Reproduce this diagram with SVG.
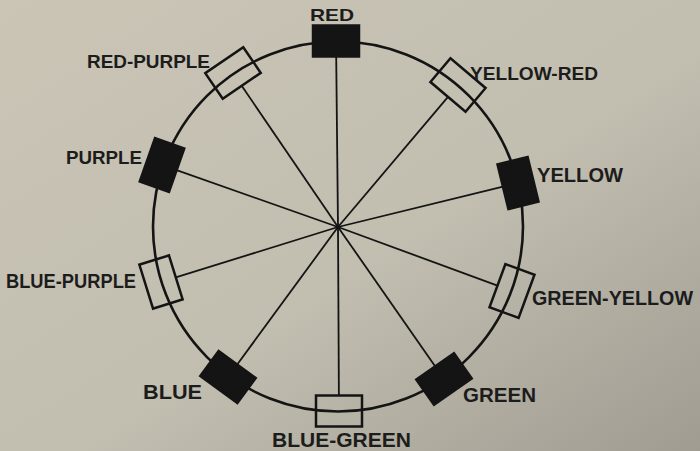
<svg xmlns="http://www.w3.org/2000/svg" width="700" height="451" viewBox="0 0 700 451">
<defs>
<linearGradient id="bg" x1="0" y1="0" x2="1" y2="1">
<stop offset="0" stop-color="#cac5b5"/>
<stop offset="0.55" stop-color="#c2beb0"/>
<stop offset="1" stop-color="#a09c92"/>
</linearGradient>
<style>
.lbl{font-family:"Liberation Sans",Arial,sans-serif;font-weight:bold;fill:#1c1c1c;font-size:20px}
.filled{fill:#141414;stroke:#141414;stroke-width:2.5}
.hollow{fill:none;stroke:#141414;stroke-width:2.5}
.spoke{stroke:#141414;stroke-width:1.8;fill:none}
.wheel{stroke:#141414;stroke-width:2.6;fill:none}
</style>
</defs>
<rect width="700" height="451" fill="url(#bg)"/>
<g id="wheel"><circle class="wheel" cx="338" cy="226.5" r="185"/></g>
<g id="connectors">
<line class="spoke" x1="338" y1="227" x2="336.2" y2="56.5"/>
<line class="spoke" x1="338" y1="227" x2="448" y2="96.8"/>
<line class="spoke" x1="338" y1="227" x2="503" y2="186.7"/>
<line class="spoke" x1="338" y1="227" x2="497.5" y2="285.6"/>
<line class="spoke" x1="338" y1="227" x2="435.1" y2="366.3"/>
<line class="spoke" x1="338" y1="227" x2="338.9" y2="395.5"/>
<line class="spoke" x1="338" y1="227" x2="237.2" y2="364.5"/>
<line class="spoke" x1="338" y1="227" x2="175.8" y2="277.4"/>
<line class="spoke" x1="338" y1="227" x2="176.6" y2="170.1"/>
<line class="spoke" x1="338" y1="227" x2="241.7" y2="85.8"/>
</g>
<g id="red"><rect class="filled" x="-23" y="-15.5" width="46" height="31" transform="translate(336,41)"/>
<text class="lbl" x="310" y="21" font-size="17" textLength="44" lengthAdjust="spacingAndGlyphs" style="font-size:17px">RED</text></g>
<g id="yellow-red"><rect class="hollow" x="-23" y="-15.5" width="46" height="31" transform="translate(458,85) rotate(40.2)"/>
<text class="lbl" x="470" y="80" textLength="128" lengthAdjust="spacingAndGlyphs" style="font-size:18px">YELLOW-RED</text></g>
<g id="yellow"><rect class="filled" x="-23" y="-15.5" width="46" height="31" transform="translate(518,183) rotate(76.3)"/>
<text class="lbl" x="537" y="182" textLength="86" lengthAdjust="spacingAndGlyphs">YELLOW</text></g>
<g id="green-yellow"><rect class="hollow" x="-23" y="-15.5" width="46" height="31" transform="translate(512,291) rotate(110.2)"/>
<text class="lbl" x="532" y="305" textLength="161" lengthAdjust="spacingAndGlyphs">GREEN-YELLOW</text></g>
<g id="green"><rect class="filled" x="-23" y="-15.5" width="46" height="31" transform="translate(444,379) rotate(145.1)"/>
<text class="lbl" x="463" y="402" textLength="73" lengthAdjust="spacingAndGlyphs">GREEN</text></g>
<g id="blue-green"><rect class="hollow" x="-23" y="-15.5" width="46" height="31" transform="translate(339,411) rotate(180)"/>
<text class="lbl" x="272" y="447" textLength="139" lengthAdjust="spacingAndGlyphs">BLUE-GREEN</text></g>
<g id="blue"><rect class="filled" x="-23" y="-15.5" width="46" height="31" transform="translate(228,377) rotate(216.3)"/>
<text class="lbl" x="143" y="399" textLength="59" lengthAdjust="spacingAndGlyphs">BLUE</text></g>
<g id="blue-purple"><rect class="hollow" x="-23" y="-15.5" width="46" height="31" transform="translate(161,282) rotate(252.7)"/>
<text class="lbl" x="6" y="288" textLength="130" lengthAdjust="spacingAndGlyphs">BLUE-PURPLE</text></g>
<g id="purple"><rect class="filled" x="-23" y="-15.5" width="46" height="31" transform="translate(162,165) rotate(289.4)"/>
<text class="lbl" x="66" y="164" textLength="76" lengthAdjust="spacingAndGlyphs" style="font-size:18px">PURPLE</text></g>
<g id="red-purple"><rect class="hollow" x="-23" y="-15.5" width="46" height="31" transform="translate(233,73) rotate(325.7)"/>
<text class="lbl" x="87" y="68" textLength="123" lengthAdjust="spacingAndGlyphs" style="font-size:19px">RED-PURPLE</text></g>
</svg>
